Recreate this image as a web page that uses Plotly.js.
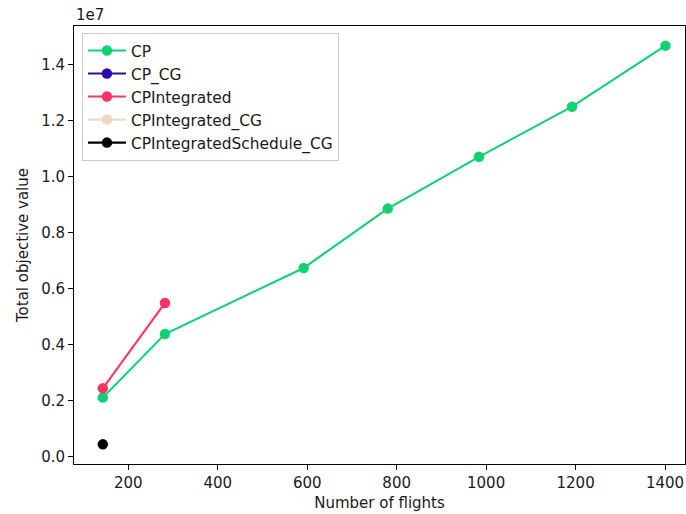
<!DOCTYPE html>
<html>
<head>
<meta charset="utf-8">
<script src="https://cdn.plot.ly/plotly-3.0.1.min.js"></script>
<style>html,body{margin:0;padding:0;background:#fff;}#chart{width:686px;height:514px;}</style>
</head>
<body>
<div id="chart"></div>
<script>
const seriesNames = ["CP", "CP_CG", "CPIntegrated", "CPIntegrated_CG", "CPIntegratedSchedule_CG"];
const seriesColors = ["#12d172", "#2a0ba8", "#fe3364", "#ecd8c4", "#000000"];
const xCP = [143, 282, 592, 780, 984, 1192, 1401];
const yCP = [2.11e6, 4.38e6, 6.74e6, 8.86e6, 10.71e6, 12.50e6, 14.68e6];
const xCP_CG = [null];
const yCP_CG = [null];
const xCPIntegrated = [143, 282];
const yCPIntegrated = [2.44e6, 5.49e6];
const xCPIntegrated_CG = [null];
const yCPIntegrated_CG = [null];
const xCPIntegratedSchedule_CG = [143];
const yCPIntegratedSchedule_CG = [0.44e6];
const yTickVals = [0, 2e6, 4e6, 6e6, 8e6, 10e6, 12e6, 14e6];
const yTickText = ["0.0", "0.2", "0.4", "0.6", "0.8", "1.0", "1.2", "1.4"];
const xTickVals = [200, 400, 600, 800, 1000, 1200, 1400];

const xs = [xCP, xCP_CG, xCPIntegrated, xCPIntegrated_CG, xCPIntegratedSchedule_CG];
const ys = [yCP, yCP_CG, yCPIntegrated, yCPIntegrated_CG, yCPIntegratedSchedule_CG];

const font = {family: "DejaVu Sans", size: 15, color: "#1a1a1a"};
const legendFont = {family: "DejaVu Sans", size: 15.4, color: "#1a1a1a"};
const traces = seriesNames.map((n, i) => ({
  x: xs[i], y: ys[i], name: n, type: "scatter", mode: "lines+markers",
  legendgroup: "g" + i, showlegend: true,
  line: {color: seriesColors[i], width: 2.1},
  marker: {color: seriesColors[i], size: 10.5}
}));

const axisCommon = {
  showgrid: false, zeroline: false, showline: true, mirror: true,
  linecolor: "#000", linewidth: 1, ticks: "outside", ticklen: 5, tickwidth: 1,
  tickcolor: "#000", tickfont: font
};

const layout = {
  width: 686, height: 514,
  margin: {l: 74, r: 1, t: 26, b: 50},
  paper_bgcolor: "#fff", plot_bgcolor: "#fff",
  font: font,
  showlegend: true,
  legend: {x: 0.013, y: 0.984, xanchor: "left", yanchor: "top",
    bgcolor: "rgba(255,255,255,0.8)", bordercolor: "#cccccc", borderwidth: 1,
    font: legendFont, tracegroupgap: 0, itemwidth: 38},
  xaxis: Object.assign({}, axisCommon, {
    range: [78.6, 1444.6], tickvals: xTickVals,
    title: {text: "Number of flights", font: font, standoff: 6}
  }),
  yaxis: Object.assign({}, axisCommon, {
    range: [-0.261e6, 15.382e6], tickvals: yTickVals, ticktext: yTickText,
    title: {text: "Total objective value", font: font, standoff: 8}
  }),
  annotations: [{text: "1e7", xref: "paper", yref: "paper", x: 0, y: 1,
    xanchor: "left", yanchor: "bottom", showarrow: false, font: font, yshift: 0}]
};

Plotly.newPlot("chart", traces, layout, {displayModeBar: false, staticPlot: true});
</script>
</body>
</html>
